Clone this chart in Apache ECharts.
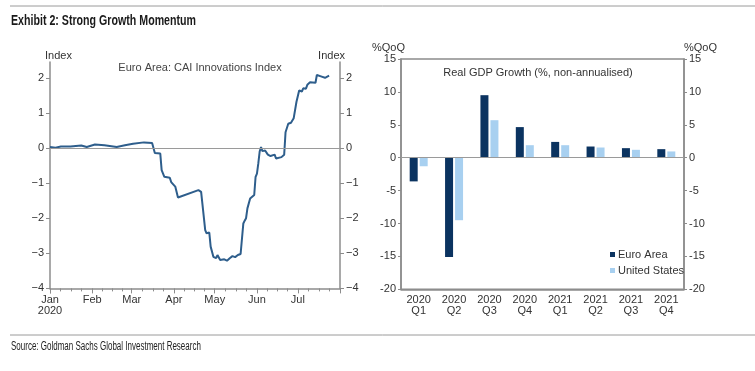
<!DOCTYPE html>
<html><head><meta charset="utf-8">
<script src="https://cdn.jsdelivr.net/npm/echarts@6/dist/echarts.min.js"></script>
<style>html,body{margin:0;padding:0;background:#fff}#c{width:755px;height:371px}</style>
</head><body><div id="c"></div>
<script>
// ---- Left panel: Euro Area CAI Innovations Index ----
const caiDates = ['2020-01-01','2020-01-05','2020-01-09','2020-01-16','2020-01-24','2020-01-28','2020-02-03','2020-02-10','2020-02-19','2020-02-25',
  '2020-03-02','2020-03-10','2020-03-16','2020-03-18','2020-03-22','2020-03-23','2020-03-25','2020-03-29','2020-03-30','2020-04-02',
  '2020-04-04','2020-04-19','2020-04-21','2020-04-22','2020-04-24','2020-04-25','2020-04-27','2020-04-28','2020-04-30','2020-05-01',
  '2020-05-02','2020-05-03','2020-05-05','2020-05-06','2020-05-08','2020-05-10','2020-05-12','2020-05-13','2020-05-14','2020-05-16',
  '2020-05-18','2020-05-20','2020-05-22','2020-05-23','2020-05-24','2020-05-25','2020-05-26','2020-05-27','2020-05-28','2020-05-30',
  '2020-05-31','2020-06-01','2020-06-02','2020-06-03','2020-06-04','2020-06-05','2020-06-07','2020-06-09','2020-06-11','2020-06-14',
  '2020-06-15','2020-06-16','2020-06-19','2020-06-21','2020-06-22','2020-06-23','2020-06-24','2020-06-26','2020-06-28','2020-06-29',
  '2020-06-30','2020-07-02','2020-07-04','2020-07-05','2020-07-07','2020-07-08','2020-07-10','2020-07-14','2020-07-15','2020-07-18',
  '2020-07-21','2020-07-24'];
const caiValues = [0.03,0.01,0.04,0.04,0.07,0.03,0.10,0.08,0.03,0.08,
  0.12,0.16,0.14,-0.14,-0.16,-0.63,-0.82,-0.85,-0.97,-1.10,
  -1.41,-1.20,-1.25,-1.25,-2.34,-2.43,-2.41,-2.81,-3.10,-3.05,
  -3.14,-3.05,-3.19,-3.24,-3.17,-3.21,-3.14,-3.11,-3.08,-3.11,
  -3.05,-3.02,-2.15,-2.07,-2.00,-1.72,-1.68,-1.44,-1.41,-1.34,
  -0.82,-0.73,-0.44,-0.10,0.03,-0.09,-0.07,-0.19,-0.23,-0.19,
  -0.30,-0.26,-0.26,-0.19,0.45,0.47,0.69,0.72,0.85,0.88,
  1.31,1.64,1.61,1.70,1.69,1.80,1.87,1.86,2.08,2.04,
  2.00,2.06];
const caiTicks = [-4,-3,-2,-1,0,1,2];
const monthLabels = ['Jan','Feb','Mar','Apr','May','Jun','Jul'];

// ---- Right panel: Real GDP growth ----
const quarters = ['2020\nQ1','2020\nQ2','2020\nQ3','2020\nQ4','2021\nQ1','2021\nQ2','2021\nQ3','2021\nQ4'];
const euroArea = [-3.6,-15.1,9.5,4.65,2.4,1.7,1.45,1.3];
const unitedStates = [-1.3,-9.5,5.7,1.9,1.9,1.55,1.2,0.95];

const AX = '#8c8c8c';
const TXT = '#333333';
const FONT = 'Liberation Sans, Arial, sans-serif';

const chart = echarts.init(document.getElementById('c'), null, {renderer: 'canvas'});

const leftY = (pos) => ({
  type: 'value', gridIndex: 0, position: pos, min: -4, max: 2.45,
  name: 'Index', nameLocation: 'end', nameGap: 1,
  nameTextStyle: {color: TXT, fontSize: 11, fontFamily: FONT, align: pos === 'left' ? 'left' : 'right',
    padding: pos === 'left' ? [0,0,0,-5] : [0,-5,0,0]},
  axisLine: {show: true, lineStyle: {color: AX, width: 1.5}},
  axisTick: {show: true, length: 4, customValues: caiTicks, lineStyle: {color: AX}},
  axisLabel: {customValues: caiTicks, color: TXT, fontSize: 11, fontFamily: FONT, margin: 6,
    formatter: v => (v < 0 ? '\u2212' + Math.abs(v) : String(v))},
  splitLine: {show: false}
});

const rightY = (pos) => ({
  type: 'value', gridIndex: 1, position: pos, min: -20, max: 15, interval: 5,
  name: '%QoQ', nameLocation: 'end', nameGap: 0,
  nameTextStyle: {color: TXT, fontSize: 11, fontFamily: FONT, align: pos === 'left' ? 'right' : 'left',
    padding: pos === 'left' ? [0,-4,-5,0] : [0,0,-5,0]},
  axisLine: {show: true, lineStyle: {color: AX, width: 1.5}},
  axisTick: {show: true, length: 3, lineStyle: {color: AX}},
  axisLabel: {color: TXT, fontSize: 11, fontFamily: FONT, margin: 5},
  splitLine: {show: false}
});

chart.setOption({
  animation: false,
  backgroundColor: '#ffffff',
  title: [
    {text: 'Euro Area: CAI Innovations Index', left: 195, top: 57, textAlign: 'center',
      textStyle: {fontSize: 11, fontWeight: 'normal', color: '#444', fontFamily: FONT}},
    {text: 'Real GDP Growth (%, non-annualised)', left: 533, top: 62, textAlign: 'center',
      textStyle: {fontSize: 11, fontWeight: 'normal', color: '#333', fontFamily: FONT}}
  ],
  graphic: [
    {type: 'line', shape: {x1: 10, y1: 6, x2: 755, y2: 6}, style: {stroke: '#9a9a9a', lineWidth: 1}},
    {type: 'line', shape: {x1: 10, y1: 335, x2: 755, y2: 335}, style: {stroke: '#9a9a9a', lineWidth: 1}},
    {type: 'text', x: 11, y: 14, scaleX: 0.76, originX: 0,
      style: {text: 'Exhibit 2: Strong Growth Momentum', fill: '#1a1a1a',
        font: 'bold 14px Liberation Sans, Arial, sans-serif', verticalAlign: 'top'}},
    {type: 'text', x: 11, y: 340, scaleX: 0.64, originX: 0,
      style: {text: 'Source: Goldman Sachs Global Investment Research', fill: '#222',
        font: '12.5px Liberation Sans, Arial, sans-serif', verticalAlign: 'top'}}
  ],
  legend: {
    data: ['Euro Area', 'United States'], orient: 'vertical', left: 605, top: 244,
    icon: 'rect', itemWidth: 5, itemHeight: 5, itemGap: 5,
    textStyle: {color: TXT, fontSize: 11, fontFamily: FONT, padding: [0,0,0,-2]}
  },
  grid: [
    {left: 50, right: 415, top: 62, bottom: 82.6},
    {left: 401, right: 71, top: 59, bottom: 81.7, show: true, borderColor: AX, borderWidth: 1.5, backgroundColor: 'transparent'}
  ],
  xAxis: [
    {type: 'time', gridIndex: 0, min: '2020-01-01', max: '2020-08-01', splitNumber: 7,
      minInterval: 28 * 86400000, maxInterval: 31 * 86400000,
      axisLine: {show: true, onZero: false, lineStyle: {color: AX, width: 1.5}},
      axisTick: {show: true, length: 5, lineStyle: {color: AX}},
      minorTick: {show: true, splitNumber: 4, length: 3, lineStyle: {color: AX}},
      axisLabel: {color: TXT, fontSize: 11, fontFamily: FONT, margin: 6, lineHeight: 11,
        showMaxLabel: false,
        formatter: (v) => {
          const d = new Date(v); const m = d.getMonth();
          if (m > 6) return '';
          return m === 0 ? monthLabels[m] + '\n' + d.getFullYear() : monthLabels[m];
        }},
      splitLine: {show: false}
    },
    {type: 'category', gridIndex: 1, data: quarters,
      axisLine: {show: true, onZero: false, lineStyle: {color: AX, width: 1.5}},
      axisTick: {show: false},
      axisLabel: {color: TXT, fontSize: 11, fontFamily: FONT, margin: 5, lineHeight: 11},
      splitLine: {show: false}
    }
  ],
  yAxis: [leftY('left'), leftY('right'), rightY('left'), rightY('right')],
  series: [
    {type: 'line', xAxisIndex: 0, yAxisIndex: 0, showSymbol: false,
      data: caiDates.map((d, i) => [d, caiValues[i]]),
      lineStyle: {color: '#2e5e8c', width: 2}, itemStyle: {color: '#2e5e8c'},
      markLine: {silent: true, symbol: 'none', label: {show: false},
        lineStyle: {color: '#9a9a9a', width: 1.2, type: 'solid'}, data: [{yAxis: 0}]}
    },
    {name: 'Euro Area', type: 'bar', xAxisIndex: 1, yAxisIndex: 2, data: euroArea,
      barWidth: 8, barGap: '25%', itemStyle: {color: '#0b3360'},
      markLine: {silent: true, symbol: 'none', label: {show: false},
        lineStyle: {color: '#9a9a9a', width: 1.2, type: 'solid'}, data: [{yAxis: 0}]}
    },
    {name: 'United States', type: 'bar', xAxisIndex: 1, yAxisIndex: 2, data: unitedStates,
      barWidth: 8, barGap: '25%', itemStyle: {color: '#a8d0f0'}}
  ]
});
</script>
</body></html>
